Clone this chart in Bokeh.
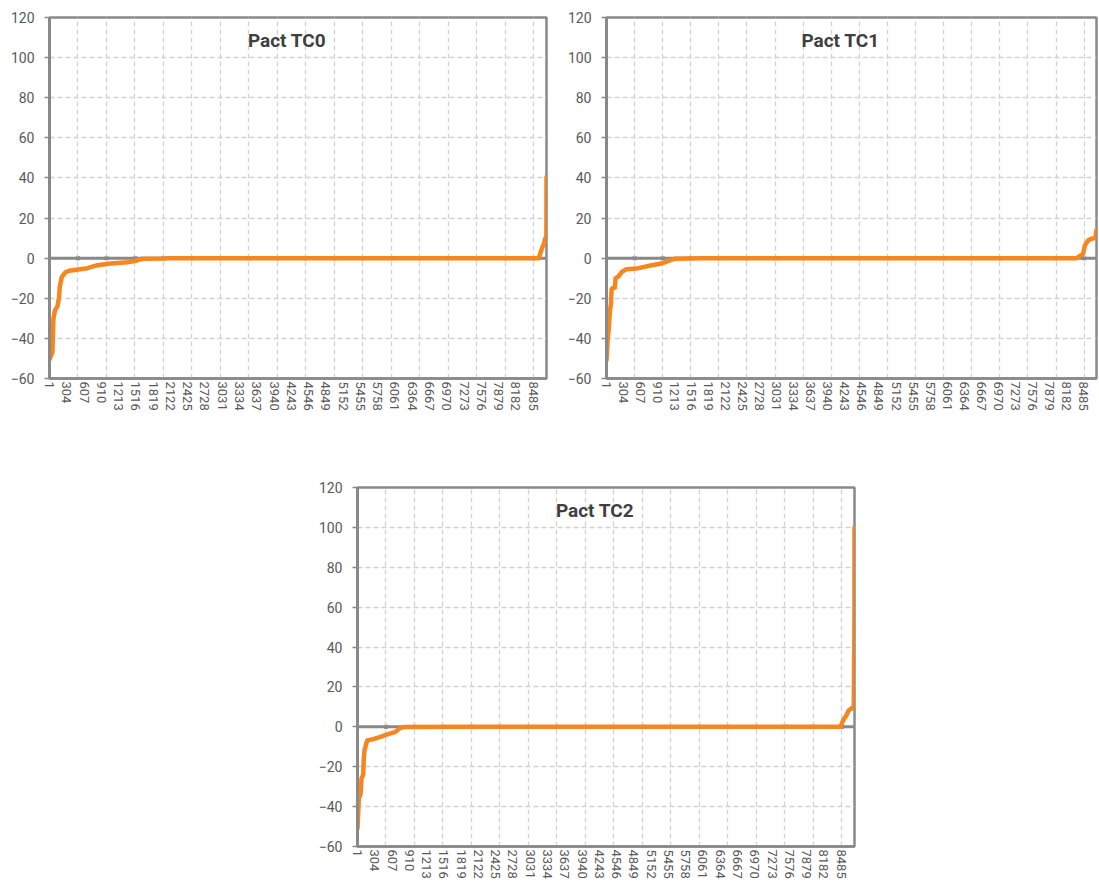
from bokeh.plotting import figure
from bokeh.models import Range1d, FixedTicker, Label, Spacer, Span
from bokeh.layouts import row, column
from bokeh.embed import file_html
from bokeh.resources import INLINE

# ---- data ----
N_POINTS = 8720

x_tick_labels = [1, 304, 607, 910, 1213, 1516, 1819, 2122, 2425, 2728, 3031, 3334,
                 3637, 3940, 4243, 4546, 4849, 5152, 5455, 5758, 6061, 6364, 6667,
                 6970, 7273, 7576, 7879, 8182, 8485]
x_grid_ticks = [500, 1000, 1500, 2000, 2500, 3000, 3500, 4000, 4500, 5000, 5500,
                6000, 6500, 7000, 7500, 8000, 8500]
y_ticks = [-60, -40, -20, 0, 20, 40, 60, 80, 100, 120]

titles = ["Pact TC0", "Pact TC1", "Pact TC2"]

tc0_x = [1, 51, 68, 96, 139, 167, 179, 214, 284, 342, 665, 840, 1074, 1367, 1512,
         1630, 2040, 2060, 8584, 8647, 8675, 8693, 8718, 8720]
tc0_y = [-50.5, -47, -30.5, -26, -24, -19.5, -14.5, -9.5, -7, -6.3, -5, -3.5, -2.7,
         -2, -1.3, -0.3, -0.2, 0, 0, 5.5, 7, 9.5, 10.5, 40.5]

tc1_x = [1, 21, 44, 61, 79, 91, 119, 149, 161, 207, 267, 354, 530, 763, 996, 1114,
         1202, 1690, 8365, 8482, 8512, 8570, 8628, 8700, 8720]
tc1_y = [-50.8, -40.5, -34, -26, -23, -15.5, -14.7, -14.7, -10, -9.3, -7, -5.5, -5.2,
         -3.8, -2.5, -1.2, -0.3, 0, 0, 2.2, 6.3, 8.8, 9.7, 10, 14]

tc2_x = [1, 23, 53, 70, 100, 110, 123, 170, 258, 404, 521, 667, 754, 812, 2010,
         8474, 8521, 8579, 8619, 8707, 8718, 8720]
tc2_y = [-50.8, -35.8, -34, -26, -24, -16, -11.8, -6.8, -6.3, -5, -3.8, -2.5, -0.5,
         -0.1, 0, 0, 3.3, 5.8, 8.3, 10, 49, 100]

# ---- styling ----
FONT = "Roboto"
GRAY = "#898989"
LABEL_GRAY = "#595959"
ORANGE = "#F7861E"


def make_chart(title, xs, ys, bl, fw, br, bt, fh, bb):
    p = figure(width=bl + fw + br, height=bt + fh + bb,
               x_range=Range1d(0, N_POINTS), y_range=Range1d(-60, 120),
               output_backend="svg", toolbar_location=None,
               min_border_left=bl, min_border_right=br,
               min_border_top=bt, min_border_bottom=bb)
    p.background_fill_color = "white"
    p.border_fill_color = "white"
    p.outline_line_color = GRAY
    p.outline_line_width = 2.5

    # grids
    p.xgrid.ticker = FixedTicker(ticks=x_grid_ticks)
    p.ygrid.ticker = FixedTicker(ticks=y_ticks)
    for g in (p.xgrid, p.ygrid):
        g.grid_line_color = "#d2d2d2"
        g.grid_line_dash = "5 3"
        g.grid_line_width = 1.3

    # y axis
    ya = p.yaxis[0]
    ya.ticker = FixedTicker(ticks=y_ticks)
    ya.axis_line_color = GRAY
    ya.axis_line_width = 3
    ya.major_tick_line_color = GRAY
    ya.major_tick_line_width = 1.5
    ya.major_tick_out = 5
    ya.major_tick_in = 0
    ya.minor_tick_line_color = None
    ya.major_label_standoff = 10
    ya.major_label_text_font = FONT
    ya.major_label_text_font_size = "14px"
    ya.major_label_text_color = LABEL_GRAY

    # x axis (labels)
    xa = p.xaxis[0]
    xa.ticker = FixedTicker(ticks=x_tick_labels)
    xa.axis_line_color = GRAY
    xa.axis_line_width = 2.5
    xa.major_tick_line_color = None
    xa.minor_tick_line_color = None
    xa.major_tick_out = 0
    xa.major_tick_in = 0
    xa.major_label_orientation = "vertical"
    xa.major_label_standoff = 3
    xa.major_label_text_font = FONT
    xa.major_label_text_font_size = "13px"
    xa.major_label_text_color = LABEL_GRAY

    # horizontal axis line at zero, drawn under the series
    p.add_layout(Span(location=0, dimension="width", line_color=GRAY,
                      line_width=3, level="underlay"))
    # small tick marks where the gridlines cross the zero line
    p.scatter(x_grid_ticks, [0] * len(x_grid_ticks), marker="square", size=4,
              fill_color="#7a7a7a", line_color=None, level="underlay")

    p.line(xs, ys, line_color=ORANGE, line_width=4.5, line_join="round", line_cap="round")

    p.add_layout(Label(x=fw / 2 - 11, y=108.5, x_units="screen", y_units="data",
                       text=title, text_align="center", text_baseline="middle",
                       text_font=FONT, text_font_style="bold", text_font_size="19px",
                       text_color="#404040"))
    return p


f1 = make_chart(titles[0], tc0_x, tc0_y, 49, 497, 14, 17, 361, 40)
f2 = make_chart(titles[1], tc1_x, tc1_y, 46, 490, 3, 17, 361, 40)
f3 = make_chart(titles[2], tc2_x, tc2_y, 49, 497, 14, 69, 359, 40)

layout = column(row(f1, f2), row(Spacer(width=308, height=468), f3))

open("out.html", "w").write(file_html(layout, INLINE))
